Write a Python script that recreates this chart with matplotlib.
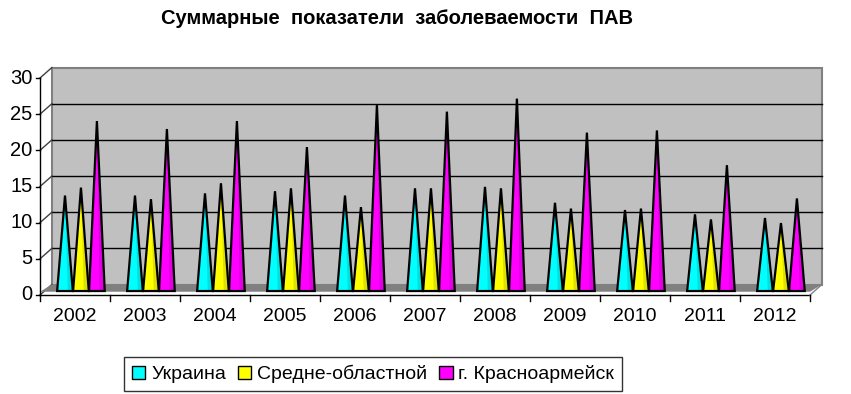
import matplotlib.pyplot as plt
from matplotlib.patches import Polygon
import numpy as np

# Данные
years = ['2002', '2003', '2004', '2005', '2006', '2007', '2008', '2009', '2010', '2011', '2012']
ukraina = [13.2, 13.2, 13.5, 13.8, 13.2, 14.2, 14.4, 12.2, 11.2, 10.6, 10.1]
sredne = [14.3, 12.7, 14.9, 14.2, 11.6, 14.2, 14.2, 11.4, 11.4, 9.9, 9.4]
krasnoarm = [23.5, 22.4, 23.5, 19.9, 25.7, 24.8, 26.6, 21.9, 22.2, 17.4, 12.8]
series_names = ['Украина', 'Средне-областной', 'г. Красноармейск']
colors = ['#00FFFF', '#FFFF00', '#FF00FF']
yticks = [0, 5, 10, 15, 20, 25, 30]

plt.rcParams['font.family'] = ['Liberation Sans', 'DejaVu Sans']

fig = plt.figure(figsize=(8.51, 3.94), dpi=100)
ax = fig.add_axes([40 / 851, 99 / 394, 770 / 851, 217 / 394])
ax.set_xlim(0, len(years))
ax.set_ylim(0, 30)
ax.axis('off')

# смещение глубины (псевдо-3D)
ddx, ddy = 0.17, 1.45
n = len(years)

# задняя стенка
wall = Polygon([(ddx, ddy), (n + ddx, ddy), (n + ddx, 30 + ddy), (ddx, 30 + ddy)],
               closed=True, facecolor='#C0C0C0', edgecolor='#808080', lw=1.5,
               clip_on=False, zorder=1)
ax.add_patch(wall)
# линии сетки на стенке и на боковой стенке
for v in yticks[1:-1]:
    ax.plot([ddx, n + ddx], [v + ddy, v + ddy], color='black', lw=1, clip_on=False, zorder=2)
for v in yticks:
    ax.plot([0, ddx], [v, v + ddy], color='#404040', lw=1, clip_on=False, zorder=2)

# пол
floor = Polygon([(0, 0.45), (n, 0.45), (n + ddx, ddy), (ddx, ddy)], closed=True,
                facecolor='#808080', edgecolor='none', clip_on=False, zorder=2)
ax.add_patch(floor)

# оси
ax.plot([0, 0], [0, 30], color='black', lw=1, clip_on=False, zorder=3)
ax.plot([0, n], [0, 0], color='black', lw=1, clip_on=False, zorder=3)
ax.plot([n, n + ddx], [0, ddy], color='#808080', lw=1, clip_on=False, zorder=3)
for v in yticks:
    ax.plot([-0.06, 0], [v, v], color='black', lw=1, clip_on=False, zorder=3)
    ax.text(-0.11, v, str(v), ha='right', va='center', fontsize=14.5)
for k in range(n + 1):
    ax.plot([k, k], [0, -0.8], color='black', lw=1, clip_on=False, zorder=3)
for k, yr in enumerate(years):
    ax.text(k + 0.5, -1.8, yr, ha='center', va='top', fontsize=14)

# конусы
base = 0.55
half = 0.112
data = [ukraina, sredne, krasnoarm]
for i, (vals, col) in enumerate(zip(data, colors)):
    for k, v in enumerate(vals):
        cx = k + 0.585 + (i - 1) * 0.228
        top = base + v
        cone = Polygon([(cx - half, base), (cx + half, base), (cx, top)], closed=True,
                       facecolor=col, edgecolor='black', lw=1.6, joinstyle='miter',
                       clip_on=False, zorder=5)
        ax.add_patch(cone)
        shade = Polygon([(cx + half * 0.35, base), (cx + half, base), (cx, top)], closed=True,
                        facecolor='black', alpha=0.12, edgecolor='none',
                        clip_on=False, zorder=6)
        ax.add_patch(shade)

# заголовок
fig.text(0.466, 0.952, 'Суммарные  показатели  заболеваемости  ПАВ', ha='center', va='center',
         fontsize=14.5, fontweight='bold')

# легенда
handles = [plt.Rectangle((0, 0), 1, 1, facecolor=c, edgecolor='black', lw=1) for c in colors]
leg = fig.legend(handles, series_names, loc='center', bbox_to_anchor=(373 / 851, 1 - 374 / 394),
                 ncol=3, fontsize=14, frameon=True, fancybox=False, edgecolor='black',
                 handlelength=0.7, handleheight=0.7, handletextpad=0.3, columnspacing=0.6,
                 borderpad=0.4)
leg.get_frame().set_linewidth(1)

fig.savefig('out.png', dpi=100)
